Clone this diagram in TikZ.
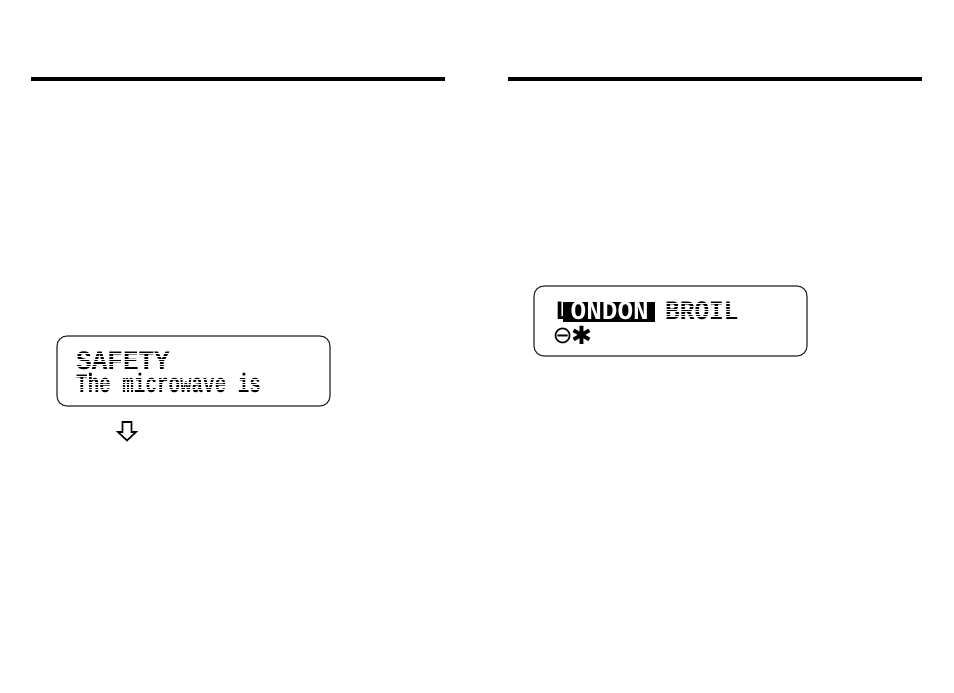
\documentclass[tikz,border=0pt]{standalone}
\usepackage{fontspec}
\setmainfont{Liberation Mono}
\newfontfamily\symfont{DejaVu Sans}
\tikzset{
  rule/.style={line width=4pt,black},
  lcd/.style={draw=black!85,line width=1.1pt,rounded corners=10pt,fill=white},
  lcdtext/.style={inner sep=0pt,anchor=base west,text=black,text height=14pt,text depth=0pt},
  hitext/.style={inner sep=0pt,anchor=base west,text=white,text height=14pt,text depth=0pt},
  hibar/.style={fill=black,draw=none},
  downarrow/.style={draw=black,line width=1.6pt,fill=white,line join=miter},
  gap/.style={draw=white,line width=0.35pt}
}
\newcommand{\boldline}[1]{\fontsize{26}{26}\selectfont\bfseries\scalebox{1.0}[1.02]{#1}}
\newcommand{\thinline}[1]{\fontsize{25}{25}\selectfont\bfseries\scalebox{0.77}[1.06]{#1}}
\begin{document}
\begin{tikzpicture}[x=1pt,y=-1pt]
\useasboundingbox (0,0) rectangle (954,693);
\draw[rule] (31,79) coordinate (l1) -- (445,79) coordinate (l2);
\draw[rule] (508,79) coordinate (r1) -- (922,79) coordinate (r2);
\draw[lcd] (57,336) rectangle (330,406);
\node[lcdtext] (safety) at (76,369) {\boldline{SAFETY}};
\node[lcdtext] (micro) at (76,392) {\thinline{The microwave is}};
\foreach \y in {353.6,356.2,358.8,361.4,364,366.6}{\draw[gap] (74,\y) -- (175,\y);}
\foreach \y in {376.6,379.2,381.8,384.4,387,389.6}{\draw[gap] (74,\y) -- (265,\y);}
\draw[downarrow] (122.5,422) -- (131.5,422) -- (131.5,432) -- (136,432) -- (127,440.5) -- (118,432) -- (122.5,432) -- cycle;
\draw[lcd] (534,286) rectangle (807,356);
\fill[hibar] (563,302) rectangle (655,322);
\node[lcdtext] (lon) at (555,319) {\boldline{L}};
\node[hitext] (don) at (570.5,319) {\boldline{ONDON}};
\node[lcdtext] (broil) at (665,319) {\fontsize{26}{26}\selectfont\bfseries\scalebox{0.94}[1.02]{BROIL}};
\foreach \y in {303.6,306.2,308.8,311.4,314,316.6}{\draw[gap] (663,\y) -- (740,\y);}
\node[lcdtext,text height=12pt] (clock) at (552.5,343) {\symfont\fontsize{24}{24}\selectfont ⊖};
\node[lcdtext,text height=12pt] (star) at (571,344) {\symfont\fontsize{25}{25}\selectfont ✱};
\end{tikzpicture}
\end{document}
